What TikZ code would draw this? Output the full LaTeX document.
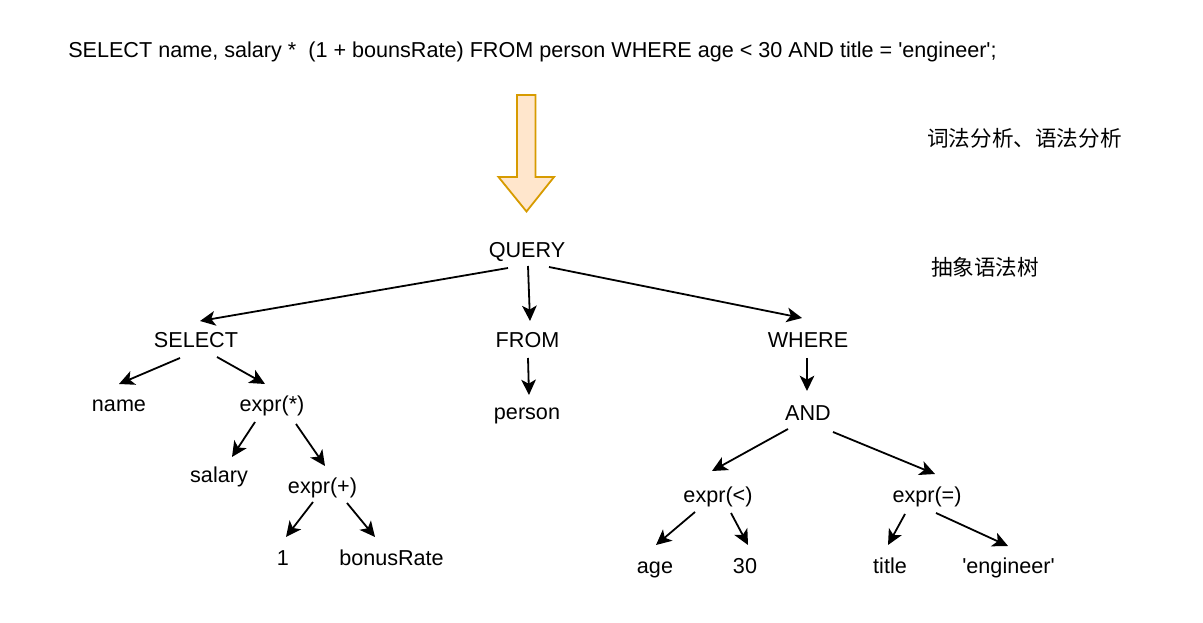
\documentclass[tikz,border=0pt]{standalone}
\usepackage{fontspec}
\setmainfont{Liberation Sans}
\newfontfamily\cjk{Noto Sans CJK SC}
\usetikzlibrary{arrows.meta}
\definecolor{arrowfill}{HTML}{FFE6CC}
\definecolor{arrowline}{HTML}{D79B00}
\begin{document}
\begin{tikzpicture}[x=0.75pt,y=-0.75pt,
  lbl/.style={font=\fontsize{16.2pt}{19pt}\selectfont, inner sep=0pt, text height=14.7pt, text depth=3.4pt},
  toptext/.style={font=\fontsize{16.2pt}{19pt}\selectfont, inner sep=0pt, text height=14.7pt, text depth=3.4pt, anchor=west},
  cjklbl/.style={font=\cjk\fontsize{16.2pt}{19pt}\selectfont, inner sep=0pt, text height=14.7pt, text depth=3.4pt},
  edge/.style={draw, line width=1.35pt, -{Stealth[length=11.5pt,width=11pt,inset=3pt]}},
  bigarrow/.style={draw=arrowline, fill=arrowfill, line width=1.35pt, line join=miter}]
\fill[white] (0,0) rectangle (1203,623);
\useasboundingbox (0,0) rectangle (1203,623);

\node[toptext] (sql) at (68,49.5) {SELECT name, salary *\ \ (1 + bounsRate) FROM person WHERE age < 30 AND title = \textquotesingle engineer\textquotesingle;};
\node[cjklbl] (lex) at (1024.5,138.5) {词法分析、语法分析};
\node[cjklbl] (ast) at (985,267.5) {抽象语法树};

\draw[bigarrow] (517,95) -- (535.5,95) -- (535.5,177) -- (554,177) -- (526.5,211.5) -- (498.5,177) -- (517,177) -- cycle;

\node[lbl] (query) at (527,249.5) {QUERY};
\node[lbl] (select) at (196,339.5) {SELECT};
\node[lbl] (from) at (527.5,339.5) {FROM};
\node[lbl] (where) at (808,339.5) {WHERE};
\node[lbl] (name) at (119,403.5) {name};
\node[lbl] (exprmul) at (272,404) {expr(*)};
\node[lbl] (person) at (527,411.5) {person};
\node[lbl] (and) at (808,412.5) {AND};
\node[lbl] (salary) at (219,475) {salary};
\node[lbl] (exprplus) at (322.5,485.5) {expr(+)};
\node[lbl] (one) at (283,557.5) {1};
\node[lbl] (bonus) at (391.5,557.5) {bonusRate};
\node[lbl] (exprlt) at (718,494.5) {expr(<)};
\node[lbl] (expreq) at (927,494.5) {expr(=)};
\node[lbl] (age) at (655,565.5) {age};
\node[lbl] (thirty) at (745,565.5) {30};
\node[lbl] (title) at (890,565.5) {title};
\node[lbl] (engineer) at (1008.5,565.5) {\textquotesingle engineer\textquotesingle};

\draw[edge] ([shift={(-19,18.5)}]query.center) -- ([shift={(4,-18.5)}]select.center);
\draw[edge] ([shift={(1,16.5)}]query.center) -- ([shift={(2.5,-18.5)}]from.center);
\draw[edge] ([shift={(22,17.5)}]query.center) -- ([shift={(-6,-21.5)}]where.center);
\draw[edge] ([shift={(-16,18.5)}]select.center) -- ([shift={(0,-19.5)}]name.center);
\draw[edge] ([shift={(21,17.5)}]select.center) -- ([shift={(-7,-20)}]exprmul.center);
\draw[edge] ([shift={(0.5,18.5)}]from.center) -- ([shift={(2,-16.5)}]person.center);
\draw[edge] ([shift={(-1,18.5)}]where.center) -- ([shift={(-1,-21.5)}]and.center);
\draw[edge] ([shift={(-17,18)}]exprmul.center) -- ([shift={(13,-18)}]salary.center);
\draw[edge] ([shift={(24,20)}]exprmul.center) -- ([shift={(2.5,-19.5)}]exprplus.center);
\draw[edge] ([shift={(-9.5,16.5)}]exprplus.center) -- ([shift={(3,-20.5)}]one.center);
\draw[edge] ([shift={(24.5,17.5)}]exprplus.center) -- ([shift={(-16.5,-20.5)}]bonus.center);
\draw[edge] ([shift={(-20,16.5)}]and.center) -- ([shift={(-6,-23.5)}]exprlt.center);
\draw[edge] ([shift={(25,19.5)}]and.center) -- ([shift={(8,-20.5)}]expreq.center);
\draw[edge] ([shift={(-23,17.5)}]exprlt.center) -- ([shift={(1,-20.5)}]age.center);
\draw[edge] ([shift={(13,18.5)}]exprlt.center) -- ([shift={(3,-20.5)}]thirty.center);
\draw[edge] ([shift={(-22,19.5)}]expreq.center) -- ([shift={(-2,-20.5)}]title.center);
\draw[edge] ([shift={(9,18.5)}]expreq.center) -- ([shift={(-0.5,-19.5)}]engineer.center);
\end{tikzpicture}
\end{document}
